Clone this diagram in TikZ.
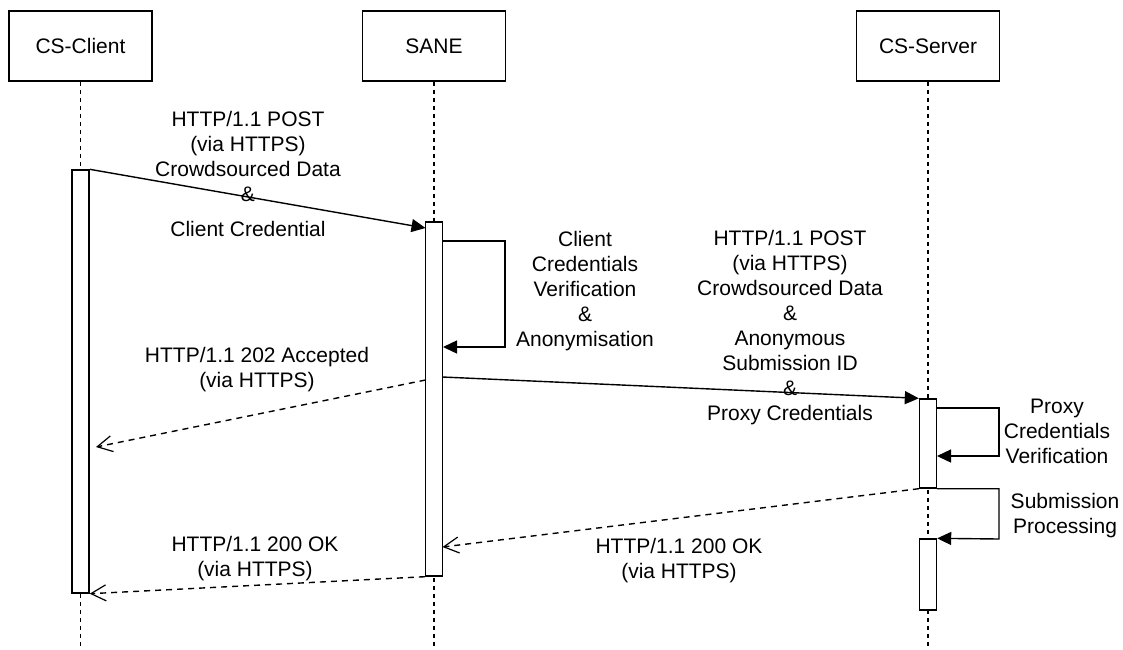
\documentclass[tikz,border=0pt]{standalone}
\usepackage{fontspec}
\setmainfont{Liberation Sans}
\usetikzlibrary{arrows.meta}
\begin{document}
\begin{tikzpicture}[x=1pt,y=-1pt,line width=1.4pt,
		every node/.style={font=\fontsize{21}{25}\selectfont},
		actor/.style={draw,fill=white,minimum width=143pt,minimum height=70pt,inner sep=0pt},
		bar/.style={draw,fill=white,minimum width=17pt,inner sep=0pt},
		lifeline/.style={dash pattern=on 4pt off 4pt,line width=1.2pt},
		call/.style={-{Triangle[length=14pt,width=13pt]}},
		reply/.style={dash pattern=on 6pt off 5pt,-{Straight Barb[length=15pt,width=16pt,line width=1.2pt]}},
		msg/.style={align=center,inner sep=0pt}]
		\useasboundingbox (0,0) rectangle (1123,649);
		% participants and lifelines
		\node[actor] (client) at (80.5,46) {CS-Client};
		\node[actor] (sane) at (434,46) {SANE};
		\node[actor] (server) at (928,46) {CS-Server};
		\coordinate (cend) at (80.5,649);
		\coordinate (send) at (434,649);
		\coordinate (vend) at (928,649);
		\draw [lifeline] (client.south) to (cend);
		\draw [lifeline] (sane.south) to (send);
		\draw [lifeline] (server.south) to (vend);
		% activation bars
		\node[bar,minimum height=423pt] (cbar) at (80.5,381.5) {};
		\node[bar,minimum height=354pt] (sbar) at (434,399) {};
		\node[bar,minimum height=89pt] (vbar) at (928,443.5) {};
		\node[bar,minimum height=71pt] (wbar) at (928,574.5) {};
		% message ends
		\coordinate (m1) at (425.5,228);
		\coordinate (r1s) at (425.5,380);
		\coordinate (r1e) at (96,447);
		\coordinate (m2s) at (442.5,377);
		\coordinate (r2e) at (442.5,547);
		\coordinate (l1a) at (442.5,241);
		\coordinate (l1b) at (505,347);
		\coordinate (l1c) at (443,347);
		\coordinate (l2a) at (936.5,408);
		\coordinate (l2b) at (999,456);
		\coordinate (l2c) at (937,456);
		\coordinate (l3b) at (999,539);
		% messages
		\draw [call] (cbar.north east) to (m1);
		\draw [call] (l1a) -| (l1b) to (l1c);
		\draw [reply] (r1s) to (r1e);
		\draw [call] (m2s) to (vbar.north west);
		\draw [call] (l2a) -| (l2b) to (l2c);
		\draw [call] (vbar.south east) -| (l3b) to (wbar.north east);
		\draw [reply] (vbar.south west) to (r2e);
		\draw [reply] (sbar.south west) to (cbar.south east);
		% labels
		\node[msg] (lab1) at (248,174) {HTTP/1.1 POST\\(via HTTPS)\\Crowdsourced Data\\\&\\[10pt]Client Credential};
		\node[msg] (lab2) at (585,291) {Client\\Credentials\\Verification\\\&\\Anonymisation};
		\node[msg] (lab3) at (790,328) {HTTP/1.1 POST\\(via HTTPS)\\Crowdsourced Data\\\&\\Anonymous\\Submission ID\\\&\\Proxy Credentials};
		\node[msg] (lab4) at (257,369.5) {HTTP/1.1 202 Accepted\\(via HTTPS)};
		\node[msg] (lab5) at (1057,431.5) {Proxy\\Credentials\\Verification};
		\node[msg] (lab6) at (1065,515.5) {Submission\\Processing};
		\node[msg] (lab7) at (679,561) {HTTP/1.1 200 OK\\(via HTTPS)};
		\node[msg] (lab8) at (255,558.5) {HTTP/1.1 200 OK\\(via HTTPS)};
	\end{tikzpicture}
\end{document}
